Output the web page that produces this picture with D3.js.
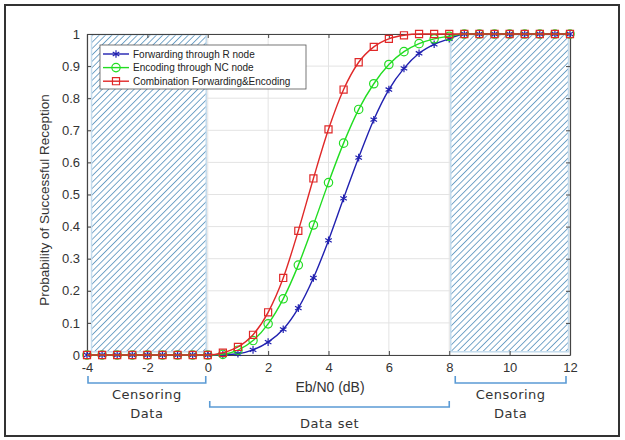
<!DOCTYPE html>
<html><head><meta charset="utf-8">
<script src="https://cdn.jsdelivr.net/npm/d3@7"></script>
<style>body{margin:0;background:#fff}svg{display:block}</style>
</head><body>
<script>
const xValues = d3.range(-4, 12.01, 0.5);
const forwarding = [0,0,0,0,0,0,0,0,0, 0.001,0.004,0.016,0.04,0.08,0.146,0.24,0.357,0.488,0.615,0.733,0.827,0.893,0.94,0.968,0.985, 1,1,1,1,1,1,1,1];
const encoding   = [0,0,0,0,0,0,0,0,0, 0.002,0.015,0.045,0.097,0.175,0.28,0.405,0.537,0.66,0.765,0.845,0.905,0.945,0.97,0.985,0.993, 1,1,1,1,1,1,1,1];
const combination= [0,0,0,0,0,0,0,0,0, 0.007,0.025,0.063,0.133,0.24,0.387,0.55,0.703,0.827,0.912,0.96,0.985,0.996,1,1,1, 1,1,1,1,1,1,1,1];
const seriesNames = ["Forwarding through R node","Encoding through NC node","Combination Forwarding&Encoding"];
const xTicks = [-4,-2,0,2,4,6,8,10,12];
const yTicks = [0,0.1,0.2,0.3,0.4,0.5,0.6,0.7,0.8,0.9,1];
const regions = [
  {from:-4, to:0, label:["Censoring","Data"]},
  {from:0, to:8, label:["Data set"]},
  {from:8, to:12, label:["Censoring","Data"]}
];

const W=625,H=440;
const svg=d3.select("body").append("svg").attr("width",W).attr("height",H);
svg.append("rect").attr("x",5).attr("y",5).attr("width",614).attr("height",431)
  .attr("fill","#fff").attr("stroke","#333").attr("stroke-width",2);

const L=87,R=570,T=34,B=355;
const x=d3.scaleLinear().domain([-4,12]).range([L,R]);
const y=d3.scaleLinear().domain([0,1]).range([B,T]);

const defs=svg.append("defs");
const pat=defs.append("pattern").attr("id","hatch").attr("patternUnits","userSpaceOnUse")
  .attr("width",4.5).attr("height",4.5).attr("patternTransform","rotate(45)");
pat.append("rect").attr("width",4.5).attr("height",4.5).attr("fill","#fff");
pat.append("line").attr("x1",0).attr("y1",0).attr("x2",0).attr("y2",4.5)
  .attr("stroke","#2f78ad").attr("stroke-width",1.3);

const g=svg.append("g");
g.selectAll(".gx").data(xTicks).join("line").attr("x1",d=>x(d)).attr("x2",d=>x(d))
  .attr("y1",T).attr("y2",B).attr("stroke","#e3e3e3");
g.selectAll(".gy").data(yTicks).join("line").attr("y1",d=>y(d)).attr("y2",d=>y(d))
  .attr("x1",L).attr("x2",R).attr("stroke","#e3e3e3");

g.append("rect").attr("x",x(-3.85)).attr("y",y(0.998)).attr("width",x(-0.05)-x(-3.85)).attr("height",y(0.01)-y(0.998))
  .attr("fill","url(#hatch)").attr("stroke","#c5dced").attr("stroke-width",1.5);
g.append("rect").attr("x",x(8.05)).attr("y",y(0.998)).attr("width",x(11.95)-x(8.05)).attr("height",y(0.01)-y(0.998))
  .attr("fill","url(#hatch)").attr("stroke","#c5dced").attr("stroke-width",1.5);

const ax=svg.append("g").attr("transform",`translate(0,${B})`)
  .call(d3.axisBottom(x).tickValues(xTicks).tickSizeInner(-4).tickSizeOuter(0).tickPadding(8).tickFormat(d=>String(d)));
const ay=svg.append("g").attr("transform",`translate(${L},0)`)
  .call(d3.axisLeft(y).tickValues(yTicks).tickSizeInner(-4).tickSizeOuter(0).tickPadding(7).tickFormat(d=>String(d)));
const axT=svg.append("g").attr("transform",`translate(0,${T})`)
  .call(d3.axisTop(x).tickValues(xTicks).tickSizeInner(-4).tickSizeOuter(0).tickFormat(""));
const ayR=svg.append("g").attr("transform",`translate(${R},0)`)
  .call(d3.axisRight(y).tickValues(yTicks).tickSizeInner(-4).tickSizeOuter(0).tickFormat(""));
[ax,ay,axT,ayR].forEach(a=>{
  a.selectAll("path").attr("stroke","#444").attr("stroke-width",1.2);
  a.selectAll("line").attr("stroke","#444");
  a.selectAll("text").attr("fill","#333").style("font-family","Liberation Sans, Arial, sans-serif").style("font-size","13px");
});

const colors=["#2020b0","#22dd22","#e02828"];
const data=[forwarding,encoding,combination];
const line=d3.line().x((d,i)=>x(xValues[i])).y(d=>y(d)).curve(d3.curveMonotoneX);
const markers=[d3.symbolAsterisk,d3.symbolCircle,d3.symbolSquare];
const msize=[40,55,50];
data.forEach((s,k)=>{
  const gg=svg.append("g");
  gg.append("path").datum(s).attr("d",line).attr("fill","none").attr("stroke",colors[k]).attr("stroke-width",1.4);
  gg.selectAll("path.m").data(s).join("path").attr("class","m")
    .attr("transform",(d,i)=>`translate(${x(xValues[i])},${y(d)})`)
    .attr("d",d3.symbol(markers[k],msize[k])).attr("fill","none").attr("stroke",colors[k]).attr("stroke-width",1.2);
});

const lg=svg.append("g");
lg.append("rect").attr("x",100).attr("y",45).attr("width",206).attr("height",44)
  .attr("fill","#fff").attr("stroke","#555").attr("stroke-width",0.8);
seriesNames.forEach((n,k)=>{
  const yy=54+k*13.6;
  lg.append("line").attr("x1",103).attr("x2",129).attr("y1",yy).attr("y2",yy).attr("stroke",colors[k]).attr("stroke-width",1.4);
  lg.append("path").attr("transform",`translate(116,${yy})`).attr("d",d3.symbol(markers[k],msize[k])())
    .attr("fill","none").attr("stroke",colors[k]).attr("stroke-width",1.2);
  lg.append("text").attr("x",133).attr("y",yy+3.5).text(n)
    .style("font-family","Liberation Sans, Arial, sans-serif").style("font-size","10px").attr("fill","#222");
});

svg.append("text").attr("x",330).attr("y",392).attr("text-anchor","middle").text("Eb/N0 (dB)")
  .style("font-family","Liberation Sans, Arial, sans-serif").style("font-size","14px").attr("fill","#333");
svg.append("text").attr("transform","translate(49,200) rotate(-90)").attr("text-anchor","middle")
  .text("Probability of Successful Reception")
  .style("font-family","Liberation Sans, Arial, sans-serif").style("font-size","13.5px").attr("fill","#333");

regions.forEach((r,i)=>{
  const mid = i===1;
  const x1=x(r.from)+(i===0?1:(i===1?2:6)), x2=x(r.to)-(i===2?4:(i===1?0:2));
  const yb = mid?407:383, yt = mid?401:376;
  svg.append("path").attr("d",`M${x1},${yt}V${yb}H${x2}V${yt}`).attr("fill","none")
    .attr("stroke","#5b9bd5").attr("stroke-width",1.6);
  const cx=(x1+x2)/2;
  r.label.forEach((t,j)=>{
    svg.append("text").attr("x",cx).attr("y",mid?428:(399+j*19)).attr("text-anchor","middle").text(t)
      .style("font-family","DejaVu Sans, sans-serif").style("font-size","13px").attr("fill","#333")
      .style("letter-spacing","0.5px");
  });
});
</script>
</body></html>
